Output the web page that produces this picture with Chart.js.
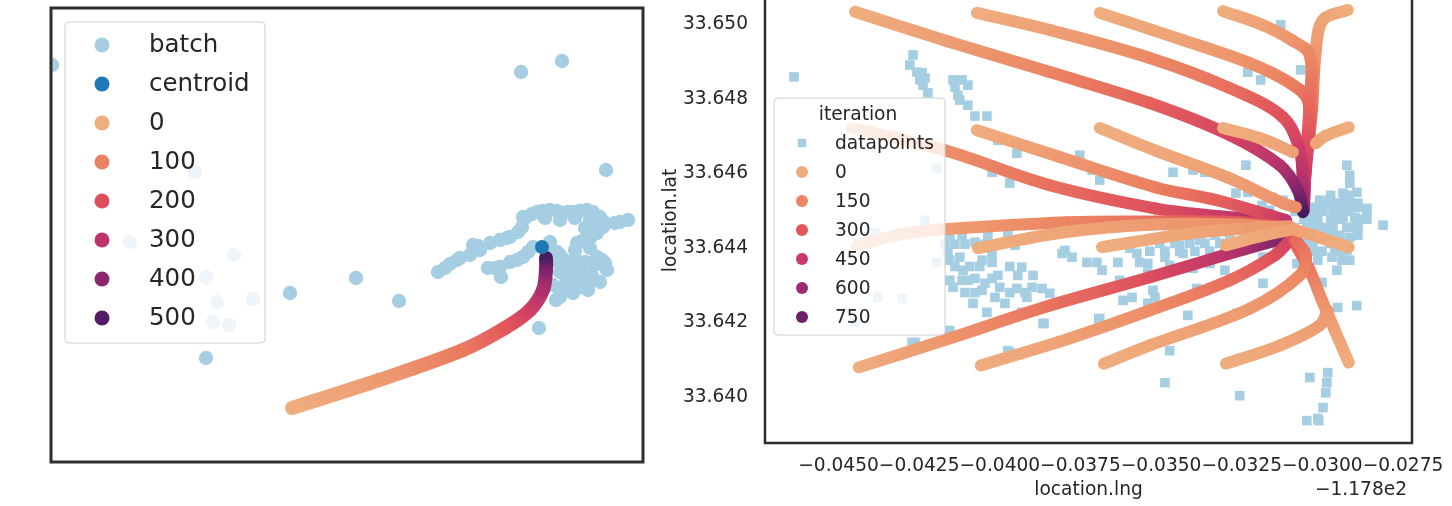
<!DOCTYPE html>
<html>
<head>
<meta charset="utf-8">
<script src="https://cdn.jsdelivr.net/npm/chart.js@4.4.0/dist/chart.umd.min.js"></script>
<style>
  html, body { margin: 0; padding: 0; background: #fff; }
  body { width: 1452px; height: 506px; overflow: hidden; position: relative; }
  #leftBox { position: absolute; left: 0; top: 0; }
  #rightBox { position: absolute; left: 660px; top: -10px; }
</style>
</head>
<body>
<div id="leftBox"><canvas id="batchChart" width="660" height="506"></canvas></div>
<div id="rightBox"><canvas id="iterChart" width="792" height="516"></canvas></div>
<script>
// ---------- left panel: one batch, its centroid and the path towards it (axes hidden) ----------
var batchX = [1, 470, 511, 555, 144, 79, 183, 155, 202, 166, 162, 178, 155, 239, 305, 348, 488,
  387, 394, 406, 419, 429, 422, 439, 456, 471, 472, 486, 499, 512, 522, 536, 549, 552, 546, 536, 526, 569, 577,
  437, 449, 450, 459, 472, 482, 499, 506, 509, 516, 524, 539, 522, 529, 546, 551, 554, 556, 542, 529, 522, 509, 502, 514, 534,
  399, 409, 427, 449, 459, 467, 474, 481, 491, 506, 517, 529, 542, 553, 539, 531, 564, 494, 509, 524, 539, 534, 544,
  444, 466, 477, 497, 511, 504, 514, 524, 534, 544, 509, 521, 531, 541, 549, 514, 524, 537, 509, 505];
var batchY = [397, 390, 401, 292, 290, 220, 207, 185, 163, 160, 140, 137, 104, 169, 184, 161, 134,
  190, 194, 202, 207, 212, 217, 219, 224, 235, 245, 250, 252, 249, 250, 252, 245, 235, 229, 224, 219, 240, 242,
  194, 195, 185, 200, 205, 215, 220, 210, 207, 200, 212, 214, 192, 199, 205, 202, 199, 192, 182, 175, 169, 165, 177, 187, 187,
  198, 204, 216, 222, 225, 230, 244, 248, 251, 251, 250, 251, 250, 240, 224, 221, 239, 244, 242, 244, 242, 234, 237,
  194, 202, 210, 212, 204, 202, 196, 204, 200, 197, 190, 184, 182, 186, 180, 177, 174, 172, 170, 162];
var centroidX = [491];
var centroidY = [215];
var pathX = [241, 328, 412, 454, 479, 492, 495, 495];
var pathY = [54, 82, 112, 134, 152, 172, 192, 204];
var pathIter = [0, 40, 110, 180, 250, 330, 420, 530];
var leftLegendIters = [0, 100, 200, 300, 400, 500];
var leftMaxIter = 550;

// ---------- right panel: all datapoints and the paths from a grid of starts ----------
var pointsLng = [
  -0.04638, -0.04269, -0.04279, -0.04257, -0.04241, -0.04248, -0.04232, -0.04238, -0.04223, -0.04145,
  -0.04117, -0.04099, -0.04139, -0.04130, -0.04124, -0.04099, -0.04077, -0.04040, -0.04006, -0.03947,
  -0.04024, -0.03969, -0.03752, -0.03714, -0.03690, -0.03587, -0.04195, -0.04232, -0.04387, -0.04195,
  -0.04378, -0.04303, -0.04449, -0.04155, -0.04117, -0.04037, -0.03975, -0.03953, -0.04077, -0.04161,
  -0.04155, -0.04124, -0.04055, -0.04024, -0.04024, -0.04114, -0.04155, -0.04145, -0.04117, -0.04099,
  -0.04077, -0.04046, -0.04024, -0.04006, -0.04000, -0.04055, -0.04083, -0.04040, -0.04015, -0.03984,
  -0.03947, -0.03944, -0.03932, -0.03897, -0.03900, -0.03869, -0.03845, -0.03916, -0.03932, -0.03866,
  -0.03807, -0.03776, -0.03798, -0.03730, -0.03699, -0.03683, -0.03634, -0.03628, -0.03618, -0.03590,
  -0.03597, -0.03575, -0.03566, -0.03541, -0.03541, -0.03541, -0.03690, -0.03969, -0.04263, -0.04155,
  -0.03129, -0.03231, -0.03191, -0.03067, -0.03237, -0.03463, -0.03401, -0.03364, -0.03268, -0.03231,
  -0.02924, -0.02915, -0.02915, -0.02893, -0.02936, -0.02930, -0.02955, -0.02977, -0.03008, -0.03029,
  -0.02998, -0.02967, -0.02915, -0.02890, -0.02862, -0.02899, -0.02936, -0.02970, -0.03014, -0.03045,
  -0.03048, -0.03008, -0.02967, -0.02924, -0.02890, -0.02812, -0.02915, -0.02946, -0.02986, -0.03017,
  -0.02961, -0.02924, -0.02915, -0.02939, -0.02970, -0.03014, -0.03048, -0.03079, -0.03076, -0.03039,
  -0.02955, -0.03001, -0.02893, -0.02952, -0.03187, -0.03156, -0.03122, -0.03163, -0.03488, -0.03432,
  -0.03473, -0.03401, -0.03349, -0.03302, -0.03389, -0.03184, -0.03141, -0.03184, -0.03525, -0.03519,
  -0.03417, -0.03265, -0.03194, -0.03246, -0.03473, -0.03488, -0.03256, -0.03039, -0.02983, -0.02986,
  -0.02989, -0.02998, -0.03014, -0.03048, -0.03011, -0.03693, -0.03863, -0.03975, -0.04272, -0.03380,
  -0.03287, -0.03225, -0.03442, -0.03132,
  // dense blob east of the meeting point
  -0.02974, -0.02918,
  -0.03057, -0.03001, -0.02974, -0.02946, -0.02890,
  -0.03085, -0.03029, -0.03001, -0.02946, -0.02918, -0.02862,
  -0.03057, -0.03029, -0.02974, -0.02946, -0.02890, -0.02862,
  -0.03085, -0.03029, -0.03001, -0.02974, -0.02918, -0.02890,
  -0.03057, -0.03001, -0.02974, -0.02946, -0.02890,
  -0.03057, -0.03029, -0.02974, -0.02946,
  -0.03029, -0.03001, -0.02946,
  // band under the paths
  -0.03504, -0.03457, -0.03411, -0.03364, -0.03318, -0.03271, -0.03225, -0.03178, -0.03132,
  -0.03380, -0.03333, -0.03287, -0.03240, -0.03194, -0.03147,
  -0.03535, -0.03488, -0.03442, -0.03395, -0.03349, -0.03302, -0.03256,
  // western cluster
  -0.04170, -0.04139, -0.04108, -0.04046, -0.04000,
  -0.04139, -0.04093, -0.04062, -0.03969,
  -0.04108, -0.04077, -0.03969, -0.03922
];
var pointsLat = [
  33.64859, 33.64918, 33.64891, 33.64872, 33.64870, 33.64851, 33.64856, 33.64837, 33.64816, 33.64851,
  33.64851, 33.64837, 33.64832, 33.64810, 33.64797, 33.64783, 33.64754, 33.64754, 33.64689, 33.64654,
  33.64603, 33.64574, 33.64649, 33.64609, 33.64582, 33.64582, 33.64614, 33.64474, 33.64442, 33.64361,
  33.64267, 33.64264, 33.64200, 33.64428, 33.64434, 33.64434, 33.64439, 33.64407, 33.64415, 33.64388,
  33.64367, 33.64375, 33.64367, 33.64385, 33.64361, 33.64340, 33.64313, 33.64294, 33.64313, 33.64313,
  33.64318, 33.64305, 33.64318, 33.64326, 33.64294, 33.64286, 33.64251, 33.64227, 33.64267, 33.64251,
  33.64291, 33.64326, 33.64348, 33.64326, 33.64294, 33.64291, 33.64278, 33.64267, 33.64227, 33.64197,
  33.64385, 33.64375, 33.64393, 33.64361, 33.64361, 33.64340, 33.64361, 33.64313, 33.64259, 33.64267,
  33.64399, 33.64385, 33.64361, 33.64358, 33.64332, 33.64251, 33.64210, 33.64119, 33.64146, 33.64178,
  33.64999, 33.64872, 33.64851, 33.64878, 33.64622, 33.64603, 33.64609, 33.64603, 33.64547, 33.64549,
  33.64622, 33.64595, 33.64574, 33.64549, 33.64547, 33.64528, 33.64520, 33.64528, 33.64528, 33.64509,
  33.64501, 33.64501, 33.64520, 33.64509, 33.64506, 33.64482, 33.64482, 33.64479, 33.64479, 33.64474,
  33.64453, 33.64453, 33.64453, 33.64455, 33.64455, 33.64461, 33.64428, 33.64426, 33.64428, 33.64428,
  33.64399, 33.64393, 33.64367, 33.64367, 33.64375, 33.64367, 33.64367, 33.64358, 33.64321, 33.64332,
  33.64340, 33.64307, 33.64245, 33.64240, 33.64514, 33.64536, 33.64528, 33.64501, 33.64375, 33.64385,
  33.64353, 33.64345, 33.64358, 33.64340, 33.64291, 33.64375, 33.64393, 33.64305, 33.64286, 33.64267,
  33.64219, 33.64224, 33.64442, 33.64415, 33.64124, 33.64038, 33.64003, 33.64052, 33.64065, 33.64038,
  33.64011, 33.63971, 33.63942, 33.63936, 33.63936, 33.64210, 33.64197, 33.64124, 33.64146, 33.64420,
  33.64399, 33.64431, 33.64407, 33.64420,
  33.64541, 33.64541,
  33.64520, 33.64520, 33.64520, 33.64520, 33.64520,
  33.64498, 33.64498, 33.64498, 33.64498, 33.64498, 33.64498,
  33.64477, 33.64477, 33.64477, 33.64477, 33.64477, 33.64477,
  33.64455, 33.64455, 33.64455, 33.64455, 33.64455, 33.64455,
  33.64434, 33.64434, 33.64434, 33.64434, 33.64434,
  33.64412, 33.64412, 33.64412, 33.64412,
  33.64391, 33.64391, 33.64391,
  33.64412, 33.64412, 33.64412, 33.64412, 33.64412, 33.64412, 33.64412, 33.64412, 33.64412,
  33.64434, 33.64434, 33.64434, 33.64434, 33.64434, 33.64434,
  33.64391, 33.64391, 33.64391, 33.64391, 33.64391, 33.64391, 33.64391,
  33.64410, 33.64410, 33.64410, 33.64410, 33.64410,
  33.64350, 33.64350, 33.64350, 33.64350,
  33.64280, 33.64280, 33.64280, 33.64280
];

// one entry per start point, listed bottom layer first
var trackLng = [
  [-0.02921, -0.02998, -0.03020, -0.03032, -0.03051, -0.03060],
  [-0.03308, -0.03187, -0.03095, -0.03039, -0.03039, -0.03051, -0.03057],
  [-0.03690, -0.03432, -0.03225, -0.03101, -0.03045, -0.03045, -0.03054, -0.03057],
  [-0.04071, -0.03845, -0.03535, -0.03287, -0.03122, -0.03070, -0.03060, -0.03057],
  [-0.04449, -0.04155, -0.03845, -0.03535, -0.03287, -0.03132, -0.03076, -0.03060],
  [-0.04437, -0.04155, -0.03845, -0.03535, -0.03287, -0.03110],
  [-0.04458, -0.04170, -0.03845, -0.03519, -0.03318, -0.03113],
  [-0.04071, -0.03814, -0.03519, -0.03327, -0.03163, -0.03113],
  [-0.04059, -0.03783, -0.03535, -0.03287, -0.03147, -0.03101],
  [-0.04443, -0.04310, -0.04170, -0.03789, -0.03519, -0.03256, -0.03107],
  [-0.03299, -0.03132, -0.03008, -0.02983],
  [-0.02918, -0.02961, -0.03001, -0.03039, -0.03076, -0.03091],
  [-0.03677, -0.03535, -0.03225, -0.03070, -0.03051, -0.03082],
  [-0.03690, -0.03519, -0.03296, -0.03122, -0.03082],
  [-0.03308, -0.03194, -0.03091],
  [-0.02918, -0.02992, -0.03020],
  [-0.04068, -0.03801, -0.03519, -0.03256, -0.03101],
  [-0.03683, -0.03411, -0.03225, -0.03101],
  [-0.03299, -0.03194, -0.03091],
  [-0.02918, -0.03008, -0.03091]
];
var trackLat = [
  [33.65039, 33.65012, 33.64931, 33.64770, 33.64609, 33.64501],
  [33.65036, 33.64999, 33.64958, 33.64918, 33.64797, 33.64636, 33.64514],
  [33.65031, 33.64958, 33.64896, 33.64843, 33.64797, 33.64689, 33.64582, 33.64506],
  [33.65031, 33.64985, 33.64910, 33.64829, 33.64751, 33.64662, 33.64555, 33.64501],
  [33.65034, 33.64953, 33.64872, 33.64789, 33.64703, 33.64622, 33.64555, 33.64496],
  [33.64079, 33.64157, 33.64245, 33.64321, 33.64385, 33.64428],
  [33.64722, 33.64662, 33.64568, 33.64506, 33.64485, 33.64474],
  [33.64716, 33.64644, 33.64563, 33.64528, 33.64488, 33.64474],
  [33.64084, 33.64157, 33.64232, 33.64313, 33.64380, 33.64420],
  [33.64407, 33.64436, 33.64450, 33.64469, 33.64471, 33.64469, 33.64455],
  [33.64089, 33.64138, 33.64192, 33.64232],
  [33.64092, 33.64178, 33.64259, 33.64340, 33.64399, 33.64426],
  [33.64089, 33.64138, 33.64237, 33.64326, 33.64380, 33.64420],
  [33.64722, 33.64662, 33.64590, 33.64520, 33.64509],
  [33.64722, 33.64695, 33.64657],
  [33.64724, 33.64700, 33.64681],
  [33.64399, 33.64442, 33.64463, 33.64463, 33.64453],
  [33.64402, 33.64439, 33.64453, 33.64458],
  [33.64407, 33.64431, 33.64450],
  [33.64402, 33.64428, 33.64450]
];
var trackIter = [
  [0, 30, 80, 200, 380, 600],
  [0, 40, 90, 140, 230, 380, 520],
  [0, 40, 100, 170, 230, 330, 450, 560],
  [0, 50, 130, 220, 320, 430, 560, 650],
  [0, 60, 150, 260, 380, 520, 680, 880],
  [0, 90, 210, 340, 500, 720],
  [0, 110, 220, 330, 440, 620],
  [0, 70, 170, 260, 380, 480],
  [0, 50, 120, 220, 320, 400],
  [0, 25, 60, 150, 220, 300, 380],
  [0, 25, 60, 85],
  [0, 40, 100, 180, 260, 330],
  [0, 20, 70, 130, 180, 230],
  [0, 20, 50, 90, 120],
  [0, 20, 50],
  [0, 20, 35],
  [0, 30, 70, 110, 150],
  [0, 30, 60, 90],
  [0, 20, 45],
  [0, 20, 45]
];
var rightLegendIters = [0, 150, 300, 450, 600, 750];
var rightMaxIter = 900;

var lngTicks = [-0.0450, -0.0425, -0.0400, -0.0375, -0.0350, -0.0325, -0.0300, -0.0275];
var latTicks = [33.640, 33.642, 33.644, 33.646, 33.648, 33.650];
var lngOffsetText = '\u22121.178e2';

// ---------- colours ----------
var flareStops = [0, 0.17, 0.34, 0.5, 0.67, 0.83, 0.92, 1];
var flareColors = ['#efad7e', '#ec8461', '#e2535a', '#c8386a', '#9d2a70', '#6c2169', '#4f1d64', '#3f1a5a'];
var pointBlue = '#a6cee3';
var centroidBlue = '#1f78b4';

function hexToRgb(h) {
  return [parseInt(h.substr(1, 2), 16), parseInt(h.substr(3, 2), 16), parseInt(h.substr(5, 2), 16)];
}

function flare(t) {
  t = Math.max(0, Math.min(1, t));
  for (var i = 1; i < flareStops.length; i++) {
    if (t <= flareStops[i]) {
      var f = (t - flareStops[i - 1]) / (flareStops[i] - flareStops[i - 1]);
      var a = hexToRgb(flareColors[i - 1]), b = hexToRgb(flareColors[i]);
      return 'rgb(' + Math.round(a[0] + (b[0] - a[0]) * f) + ',' +
        Math.round(a[1] + (b[1] - a[1]) * f) + ',' + Math.round(a[2] + (b[2] - a[2]) * f) + ')';
    }
  }
  return flareColors[flareColors.length - 1];
}

// each piece of a path gets a gradient between the iteration colours of its two ends
function trackSegment(iters, maxIter) {
  return function(ctx) {
    var g = ctx.chart.ctx.createLinearGradient(ctx.p0.x, ctx.p0.y, ctx.p1.x, ctx.p1.y);
    g.addColorStop(0, flare(iters[ctx.p0DataIndex] / maxIter));
    g.addColorStop(1, flare(iters[ctx.p1DataIndex] / maxIter));
    return g;
  };
}

function zip(xs, ys) {
  return xs.map(function(x, i) { return {x: x, y: ys[i]}; });
}

function fmtLng(v) {
  return (v < 0 ? '\u2212' : '') + Math.abs(v).toFixed(4);
}

// frame, legend and the offset label, drawn on top of everything
var decorPlugin = {
  id: 'panelDecor',
  afterDraw: function(chart, args, opts) {
    var ctx = chart.ctx, a = chart.chartArea;
    ctx.save();
    ctx.strokeStyle = '#2e2e2e';
    ctx.lineWidth = opts.frameWidth;
    ctx.strokeRect(a.left, a.top, a.right - a.left, a.bottom - a.top);

    var lg = opts.legend;
    var bx = a.left + lg.left, by = a.top + lg.top;
    ctx.beginPath();
    if (ctx.roundRect) ctx.roundRect(bx, by, lg.width, lg.height, 4);
    else ctx.rect(bx, by, lg.width, lg.height);
    ctx.fillStyle = 'rgba(255,255,255,0.8)';
    ctx.fill();
    ctx.lineWidth = 1;
    ctx.strokeStyle = '#cfcfcf';
    ctx.stroke();

    ctx.font = lg.fontSize + "px 'DejaVu Sans'";
    ctx.textBaseline = 'middle';
    ctx.fillStyle = '#262626';
    if (lg.title) {
      ctx.textAlign = 'center';
      ctx.fillText(lg.title, a.left + lg.titleX, a.top + lg.titleY);
    }
    ctx.textAlign = 'left';
    lg.items.forEach(function(item, i) {
      var cy = a.top + lg.rowStart + i * lg.rowGap;
      var cx = a.left + lg.markerX;
      ctx.fillStyle = item.color;
      ctx.beginPath();
      if (item.shape === 'square') {
        ctx.rect(cx - lg.markerSize * 0.7, cy - lg.markerSize * 0.7, lg.markerSize * 1.4, lg.markerSize * 1.4);
      } else {
        ctx.arc(cx, cy, lg.markerSize, 0, Math.PI * 2);
      }
      ctx.fill();
      ctx.fillStyle = '#262626';
      ctx.fillText(item.label, a.left + lg.textX, cy + 1);
    });

    if (opts.offsetText) {
      ctx.font = opts.offsetFont + "px 'DejaVu Sans'";
      ctx.textAlign = 'right';
      ctx.fillText(opts.offsetText, a.right - 5, opts.offsetY);
    }
    ctx.restore();
  }
};

Chart.defaults.font.family = "'DejaVu Sans', sans-serif";
Chart.defaults.color = '#262626';

// ---------- left chart ----------
var leftItems = [
  {label: 'batch', color: pointBlue},
  {label: 'centroid', color: centroidBlue}
].concat(leftLegendIters.map(function(it) {
  return {label: String(it), color: flare(it / leftMaxIter)};
}));

var batchChart = new Chart(document.getElementById('batchChart'), {
  type: 'scatter',
  data: {
    datasets: [
      {label: 'batch', data: zip(batchX, batchY), pointRadius: 7.2, backgroundColor: pointBlue,
        borderWidth: 0, order: 100, clip: 0},
      {label: 'path', data: zip(pathX, pathY), showLine: true, pointRadius: 0, borderWidth: 14,
        borderCapStyle: 'round', borderJoinStyle: 'round', tension: 0.35, borderColor: flare(0),
        segment: {borderColor: trackSegment(pathIter, leftMaxIter)}, order: 0},
      {label: 'centroid', data: zip(centroidX, centroidY), pointRadius: 7, backgroundColor: centroidBlue,
        borderWidth: 0, order: -1}
    ]
  },
  options: {
    responsive: false,
    animation: false,
    events: [],
    layout: {padding: {left: 51, top: 8, right: 17, bottom: 44}},
    scales: {
      x: {type: 'linear', display: false, min: 0, max: 592},
      y: {type: 'linear', display: false, min: 0, max: 454}
    },
    plugins: {
      legend: {display: false},
      tooltip: {enabled: false},
      panelDecor: {
        frameWidth: 3,
        legend: {left: 14, top: 14, width: 200, height: 321, rowStart: 37, rowGap: 39,
          markerX: 51, markerSize: 7.5, textX: 98, fontSize: 24.5, items: leftItems}
      }
    }
  },
  plugins: [decorPlugin]
});

// ---------- right chart ----------
var rightItems = [{label: 'datapoints', color: pointBlue, shape: 'square'}].concat(
  rightLegendIters.map(function(it) {
    return {label: String(it), color: flare(it / rightMaxIter)};
  }));

var rightSets = [{
  label: 'datapoints', data: zip(pointsLng, pointsLat), pointStyle: 'rect', pointRadius: 6.8,
  backgroundColor: pointBlue, borderWidth: 0, order: 1000
}];
trackLng.forEach(function(lngs, i) {
  rightSets.push({
    label: 'track ' + i, data: zip(lngs, trackLat[i]), showLine: true, pointRadius: 0,
    borderWidth: 12, borderCapStyle: 'round', borderJoinStyle: 'round', tension: 0.35,
    borderColor: flare(0), segment: {borderColor: trackSegment(trackIter[i], rightMaxIter)},
    order: -i
  });
});

var iterChart = new Chart(document.getElementById('iterChart'), {
  type: 'scatter',
  data: {datasets: rightSets},
  options: {
    responsive: false,
    animation: false,
    events: [],
    layout: {padding: {left: 0, top: 8, right: 40, bottom: 0}},
    scales: {
      x: {
        type: 'linear', min: -0.04728, max: -0.02722,
        grid: {display: false, drawTicks: false}, border: {display: false},
        afterBuildTicks: function(s) { s.ticks = lngTicks.map(function(v) { return {value: v}; }); },
        afterFit: function(s) { s.height = 63; s.paddingLeft = 0; s.paddingRight = 0; },
        ticks: {autoSkip: false, maxRotation: 0, minRotation: 0, padding: 12,
          font: {size: 18.6}, color: '#262626', callback: function(v) { return fmtLng(v); }},
        title: {display: true, text: 'location.lng', font: {size: 18.6}, color: '#262626',
          padding: {top: 0, bottom: 5}}
      },
      y: {
        type: 'linear', min: 33.63876, max: 33.65071,
        grid: {display: false, drawTicks: false}, border: {display: false},
        afterBuildTicks: function(s) { s.ticks = latTicks.map(function(v) { return {value: v}; }); },
        afterFit: function(s) { s.width = 105; s.paddingTop = 0; s.paddingBottom = 0; },
        ticks: {padding: 17, font: {size: 18.6}, color: '#262626',
          callback: function(v) { return v.toFixed(3); }},
        title: {display: true, text: 'location.lat', font: {size: 18.6}, color: '#262626',
          padding: {top: 0, bottom: 0}}
      }
    },
    plugins: {
      legend: {display: false},
      tooltip: {enabled: false},
      panelDecor: {
        frameWidth: 2.5,
        offsetText: lngOffsetText, offsetFont: 18.6, offsetY: 500,
        legend: {left: 9, top: 100, width: 171, height: 237, title: 'iteration', titleX: 93, titleY: 117,
          rowStart: 145, rowGap: 29, markerX: 37, markerSize: 6, textX: 70, fontSize: 18.6,
          items: rightItems}
      }
    }
  },
  plugins: [decorPlugin]
});
</script>
</body>
</html>
